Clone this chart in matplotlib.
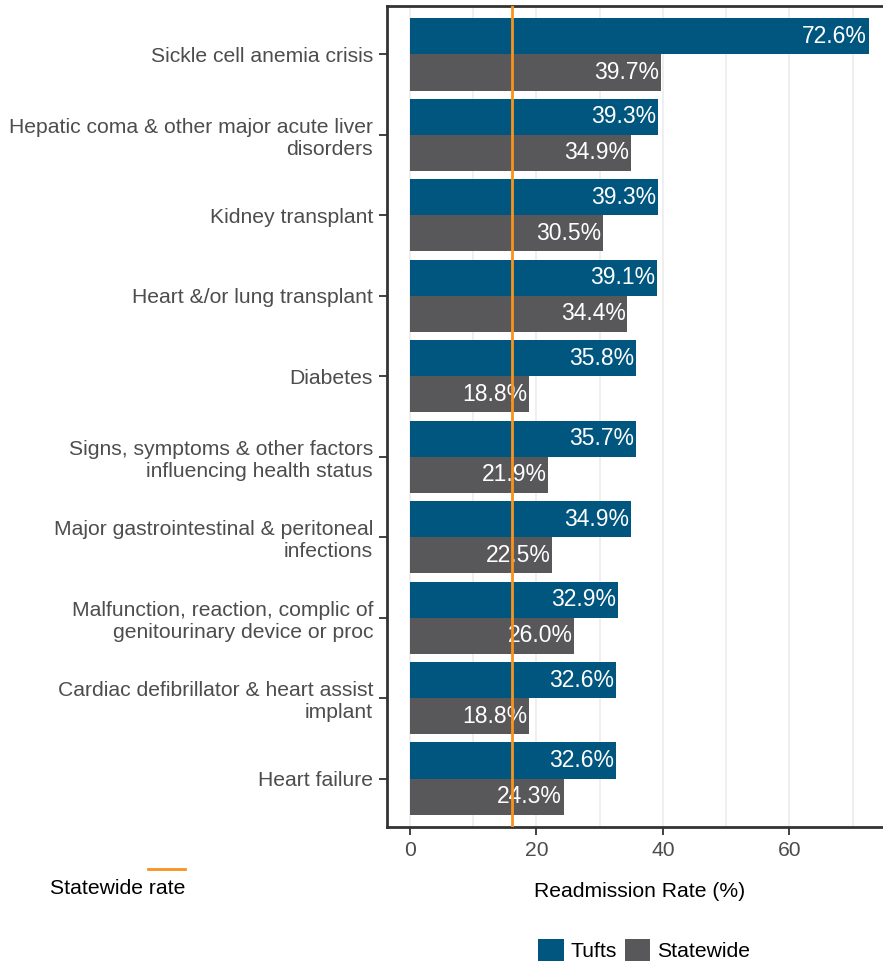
import numpy as np
import matplotlib
matplotlib.use("Agg")
import matplotlib.pyplot as plt
from matplotlib.patches import Patch
from matplotlib.lines import Line2D

plt.rcParams['font.family'] = ['Liberation Sans', 'DejaVu Sans']

# data, top to bottom as shown in the chart
categories = [
    "Sickle cell anemia crisis",
    "Hepatic coma & other major acute liver\ndisorders",
    "Kidney transplant",
    "Heart &/or lung transplant",
    "Diabetes",
    "Signs, symptoms & other factors\ninfluencing health status",
    "Major gastrointestinal & peritoneal\ninfections",
    "Malfunction, reaction, complic of\ngenitourinary device or proc",
    "Cardiac defibrillator & heart assist\nimplant",
    "Heart failure",
]
tufts = [72.6, 39.3, 39.3, 39.1, 35.8, 35.7, 34.9, 32.9, 32.6, 32.6]
statewide = [39.7, 34.9, 30.5, 34.4, 18.8, 21.9, 22.5, 26.0, 18.8, 24.3]
statewide_rate = 16.1

tufts_col = "#00567f"
state_col = "#58585b"
orange = "#f7941d"
text_col = "#4d4d4d"
fs = 15.2

fig = plt.figure(figsize=(8.83, 9.63), dpi=100)
ax = fig.add_axes([387 / 883, 136 / 963, 505 / 883, 821 / 963])

n = len(categories)
y = np.arange(n, 0, -1)  # first category on top
h = 0.45

ax.barh(y + h / 2, tufts, height=h, color=tufts_col, zorder=2)
ax.barh(y - h / 2, statewide, height=h, color=state_col, zorder=2)

for yi, t, s in zip(y, tufts, statewide):
    ax.text(t - 0.3, yi + h / 2, f"{t:.1f}%", color="white", ha="right",
            va="center", fontsize=16.5, zorder=3)
    ax.text(s - 0.3, yi - h / 2, f"{s:.1f}%", color="white", ha="right",
            va="center", fontsize=16.5, zorder=3)

ax.axvline(statewide_rate, color=orange, lw=2, zorder=4)

xmax = max(tufts)
ax.set_xlim(-0.05 * xmax, 1.05 * xmax)
ax.set_ylim(0.4, n + 0.6)

ax.set_xticks([0, 20, 40, 60])
ax.set_xticks([10, 30, 50, 70], minor=True)
ax.grid(axis="x", which="both", color="#ebebeb", lw=1.1, zorder=0)
ax.set_axisbelow(True)

ax.set_yticks(y)
ax.set_yticklabels(categories, fontsize=fs, color=text_col, ha="right")
ax.tick_params(axis="y", length=6, width=1.3, color="#333333", pad=4)
ax.tick_params(axis="x", which="major", length=6, width=1.3, color="#333333",
               labelsize=fs, labelcolor=text_col, pad=4)
ax.tick_params(axis="x", which="minor", length=0)

for sp in ax.spines.values():
    sp.set_color("#333333")
    sp.set_linewidth(2)

ax.set_xlabel("Readmission Rate (%)", fontsize=fs, color="black")
ax.xaxis.set_label_coords((640 - 387) / 505, -(882 - 827) / 821)

# statewide rate legend
fig.add_artist(Line2D([148 / 883, 185 / 883], [1 - 869 / 963, 1 - 869 / 963],
                      color=orange, lw=2))
fig.text(50 / 883, 1 - 888 / 963, "Statewide rate", fontsize=fs,
         color="black", ha="left", va="center")

# fill legend
handles = [Patch(facecolor=tufts_col, label="Tufts"),
           Patch(facecolor=state_col, label="Statewide")]
fig.legend(handles=handles, loc="center", bbox_to_anchor=(644 / 883, 1 - 950 / 963),
           ncol=2, frameon=False, fontsize=fs, handlelength=1.2,
           handleheight=1.2, handletextpad=0.3, columnspacing=0.4,
           borderaxespad=0)

fig.savefig("out.png", dpi=100)
